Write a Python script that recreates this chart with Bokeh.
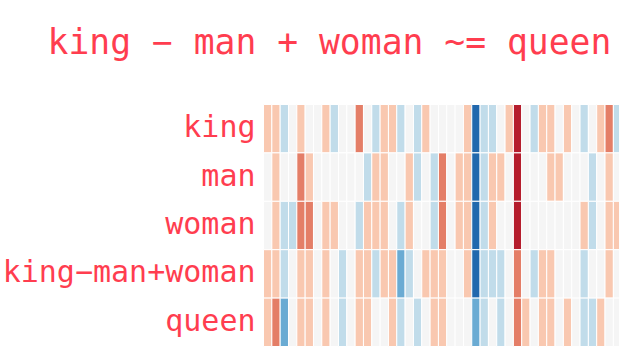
from bokeh.plotting import figure
from bokeh.models import Range1d, ColumnDataSource
from bokeh.core.properties import value
from bokeh.embed import file_html
from bokeh.resources import INLINE

words = ["king", "man", "woman", "king−man+woman", "queen"]
title_text = "king − man + woman ~= queen"

# binned embedding values (-3 .. 3) per visible dimension
king = [1,1,-1,0,1,0,0,1,-1,0,0,2,0,-1,1,1,-1,0,-1,1,0,0,0,0,1,-3,-1,-1,0,1,3,0,-1,1,1,0,1,0,-1,0,1,2,-1]
man = [0,1,0,0,2,1,0,0,0,0,0,0,-1,1,1,0,0,1,-1,0,-1,2,0,1,1,-3,-1,1,1,0,3,0,0,0,1,1,0,0,0,-1,0,1,0]
woman = [0,1,-1,-1,2,2,0,1,1,0,0,-1,1,1,1,0,-1,1,0,0,-1,2,0,1,1,-3,-1,1,0,0,3,0,0,0,0,0,0,0,1,-1,0,1,1]
king_man_woman = [1,1,-1,0,1,1,0,1,0,-1,0,1,1,-1,1,1,-2,-1,0,1,1,1,0,0,1,-3,-1,-1,-1,0,2,0,-1,1,1,0,0,0,-1,0,0,1,0]
queen = [1,2,-2,0,1,1,0,1,0,-1,0,1,1,0,0,1,-1,0,-1,0,1,1,0,0,0,-2,-1,0,-1,0,2,1,0,1,1,0,1,0,-1,-1,1,0,0]

series = [king, man, woman, king_man_woman, queen]
palette = {-3: "#2268ad", -2: "#6aabd3", -1: "#c1dcea", 0: "#f5f5f5",
           1: "#f9c8b0", 2: "#e47e67", 3: "#b51d2d"}
text_color = "#ff3d4f"

nrows = len(words)
xs, ys, cs = [], [], []
for r, vals in enumerate(series):
    for i, v in enumerate(vals):
        xs.append(i + 0.5)
        ys.append(nrows - r - 0.5)
        cs.append(palette[v])
src = ColumnDataSource(dict(x=xs, y=ys, c=cs))

# layout in pixels -> data units (cell = 8.33 px wide, 48.4 px tall)
W, H = 619, 349
cw, rh = 8.33, 48.4
left_px, top_px, bottom_px = 263, 104, 346
x0 = -left_px / cw
x1 = (W - left_px) / cw
y0 = -(H - bottom_px) / rh
y1 = nrows + top_px / rh

p = figure(width=W, height=H, output_backend="svg", toolbar_location=None,
           x_range=Range1d(x0, x1), y_range=Range1d(y0, y1),
           min_border=0, min_border_left=0, min_border_right=0,
           min_border_top=0, min_border_bottom=0)
p.rect(x="x", y="y", width=1, height=1, fill_color="c", line_color="white",
       line_width=1, source=src)

# row labels
p.text(x=[(255 - left_px) / cw] * nrows,
       y=[nrows - r - 0.5 + 2 / rh for r in range(nrows)],
       text=words, text_font=value("DejaVu Sans Mono"), text_font_size="30px",
       text_color=text_color, text_align="right", text_baseline="middle")

# title
p.text(x=[(47 - left_px) / cw], y=[nrows + (top_px - 41) / rh], text=[title_text],
       text_font=value("DejaVu Sans Mono"), text_font_size="34.7px",
       text_color=text_color, text_align="left", text_baseline="alphabetic")

p.axis.visible = False
p.xgrid.visible = False
p.ygrid.visible = False
p.outline_line_color = None
p.background_fill_color = "white"
p.border_fill_color = "white"

open("out.html", "w").write(file_html(p, INLINE))
